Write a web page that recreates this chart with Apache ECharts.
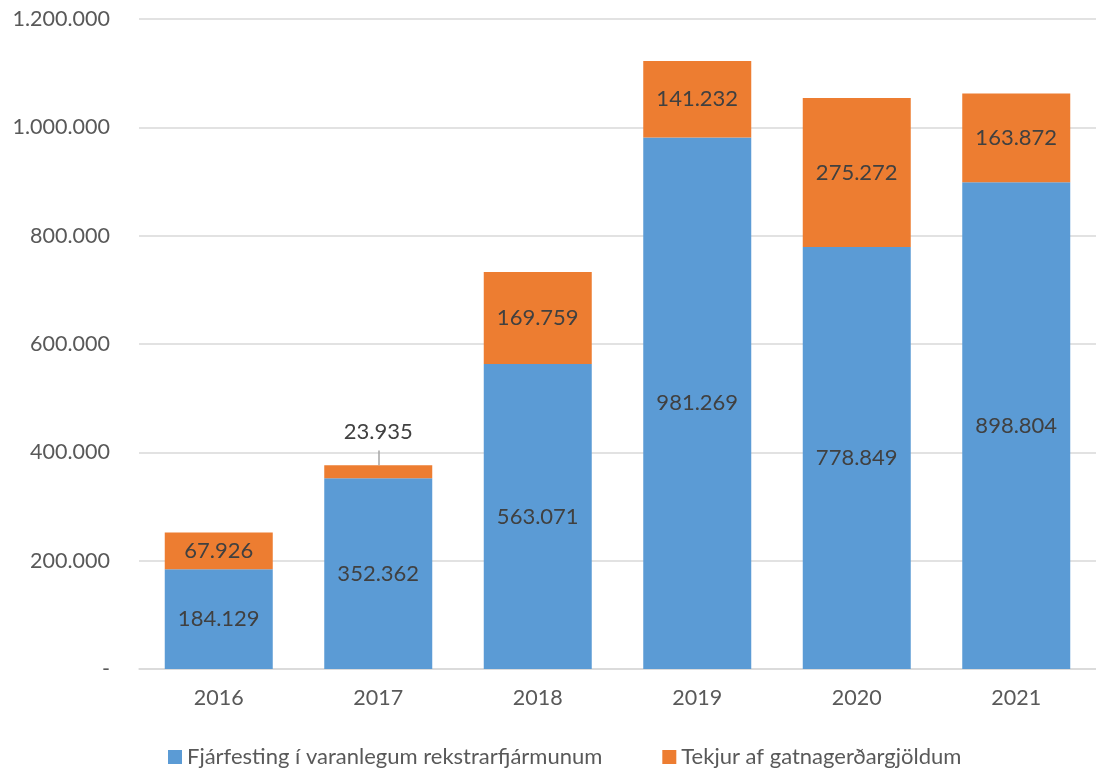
<!DOCTYPE html>
<html><head><meta charset="utf-8">
<script src="https://cdn.jsdelivr.net/npm/echarts@6/dist/echarts.min.js"></script>
<style>html,body{margin:0;padding:0;background:#fff}#c{width:1096px;height:768px}</style>
</head><body><div id="c"></div>
<script>
const categories = ['2016','2017','2018','2019','2020','2021'];
const fjarfesting = [184129, 352362, 563071, 981269, 778849, 898804];
const tekjur = [67926, 23935, 169759, 141232, 275272, 163872];
const seriesNames = ['Fjárfesting í varanlegum rekstrarfjármunum', 'Tekjur af gatnagerðargjöldum'];

function fmt(v){
  if (v === 0) return '-';
  return String(Math.round(v)).replace(/\B(?=(\d{3})+(?!\d))/g, '.');
}
const FONT = 'Lato, "Open Sans", sans-serif';
const top2017 = fjarfesting[1] + tekjur[1];
const chart = echarts.init(document.getElementById('c'));
chart.setOption({
  animation: false,
  textStyle: {fontFamily: FONT},
  grid: {left: 139, top: 19, width: 966, height: 650},
  legend: {
    top: 741, left: 163, itemWidth: 14, itemHeight: 14, itemGap: 60,
    icon: 'rect',
    textStyle: {fontFamily: FONT, fontSize: 22, color: '#595959'},
    data: seriesNames
  },
  xAxis: {
    type: 'category', data: categories,
    axisLine: {lineStyle: {color: '#d9d9d9', width: 1.5}},
    axisTick: {show: false},
    axisLabel: {fontSize: 21.5, color: '#595959', margin: 18, fontFamily: FONT}
  },
  yAxis: {
    type: 'value', min: 0, max: 1200000, interval: 200000,
    axisLine: {show: false}, axisTick: {show: false},
    splitLine: {lineStyle: {color: '#d9d9d9', width: 1.5}},
    axisLabel: {fontSize: 21.5, color: '#595959', margin: 29, fontFamily: FONT, formatter: fmt}
  },
  series: [
    {
      name: seriesNames[0], type: 'bar', stack: 's', data: fjarfesting, barWidth: 108,
      itemStyle: {color: '#5B9BD5'},
      label: {show: true, position: 'inside', fontSize: 22, color: '#404040', fontFamily: FONT, formatter: p => fmt(p.value)}
    },
    {
      name: seriesNames[1], type: 'bar', stack: 's', barWidth: 108,
      data: tekjur.map((v, i) => i === 1 ? {value: v, label: {position: 'top', distance: 22}} : v),
      itemStyle: {color: '#ED7D31'},
      label: {show: true, position: 'inside', fontSize: 22, color: '#404040', fontFamily: FONT, formatter: p => fmt(p.value)},
      markLine: {
        silent: true, symbol: 'none', label: {show: false},
        lineStyle: {color: '#a6a6a6', width: 1.5, type: 'solid'},
        data: [[{coord: [categories[1], top2017]}, {coord: [categories[1], top2017 + 27000]}]]
      }
    }
  ]
});
</script></body></html>
